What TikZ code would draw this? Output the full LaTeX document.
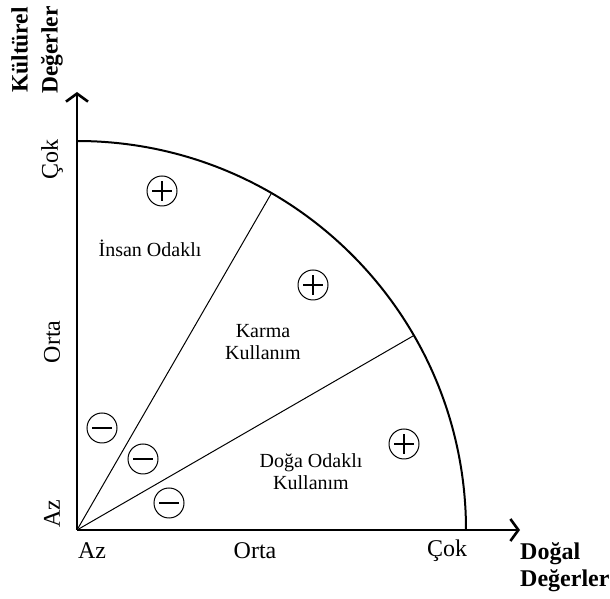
\documentclass[tikz,border=0pt]{standalone}
\usepackage{fontspec}
\setmainfont{Liberation Serif}
\usetikzlibrary{arrows.meta,positioning}
\newcommand\regfont{\fontsize{20}{22}\selectfont}
\newcommand\scalefont{\fontsize{24}{28}\selectfont}
\tikzset{
  axis/.style={line width=2.6pt,
               -{Straight Barb[length=8pt,width=22pt,line width=2.6pt]}},
  rim/.style={line width=2pt},
  ray/.style={line width=1pt},
  reglab/.style={align=center,font=\regfont,inner sep=0pt},
  scalelab/.style={font=\scalefont,inner sep=0pt},
  axlab/.style={font=\bfseries\fontsize{24}{27}\selectfont,inner sep=0pt},
  sign/.style={circle,draw,line width=1pt,minimum size=30pt,inner sep=0pt},
  plusmark/.style={sign,path picture={
      \draw[line width=2pt]
        ([xshift=-10pt]path picture bounding box.center) --
        ([xshift=10pt]path picture bounding box.center)
        ([yshift=-10pt]path picture bounding box.center) --
        ([yshift=10pt]path picture bounding box.center);}},
  minusmark/.style={sign,path picture={
      \draw[line width=2pt]
        ([xshift=-10pt]path picture bounding box.center) --
        ([xshift=10pt]path picture bounding box.center);}}
}
\begin{document}
\begin{tikzpicture}[x=1pt,y=1pt]
  \useasboundingbox (0,0) rectangle (610,599);

  % axes
  \coordinate (O) at (77,69);
  \coordinate (xend) at (520,69);
  \coordinate (yend) at (77,507);
  \draw[axis] (O) -- (xend);
  \draw[axis] (O) -- (yend);

  % quarter circle and sectors
  \draw[rim] (O) ++(0:389pt) arc[start angle=0,end angle=90,radius=389pt];
  \foreach \a in {30,60}
    \draw[ray] (O) -- ++(\a:389pt);

  % sector labels
  \node[reglab] (insan) at (150,351) {İnsan Odaklı};
  \node[reglab] (karma) at (263,257) {Karma\\Kullanım};
  \node[reglab] (doga)  at (311,127) {Doğa Odaklı\\Kullanım};

  % signs
  \node[plusmark]  (p1) at (162,408) {};
  \node[plusmark]  (p2) at (313,314) {};
  \node[plusmark]  (p3) at (404,155) {};
  \node[minusmark] (m1) at (102,171) {};
  \node[minusmark] (m2) at (143,140) {};
  \node[minusmark] (m3) at (169,96) {};

  % scale labels
  \node[scalelab] (xaz)   at (92,48)  {Az};
  \node[scalelab] (xorta) at (255,48) {Orta};
  \node[scalelab] (xcok)  at (447,48) {Çok};
  \node[scalelab,rotate=90] (yaz)   at (52,85)  {Az};
  \node[scalelab,rotate=90] (yorta) at (52,257) {Orta};
  \node[scalelab,rotate=90] (ycok)  at (52,439) {Çok};

  % axis titles
  \node[axlab,align=left,anchor=west] (xlab) at (520,32) {Doğal\\Değerler};
  \node[axlab,align=center,rotate=90,font=\bfseries\fontsize{23.5}{30}\selectfont]
      (ylab) at (37,549) {Kültürel\\Değerler};
\end{tikzpicture}
\end{document}
